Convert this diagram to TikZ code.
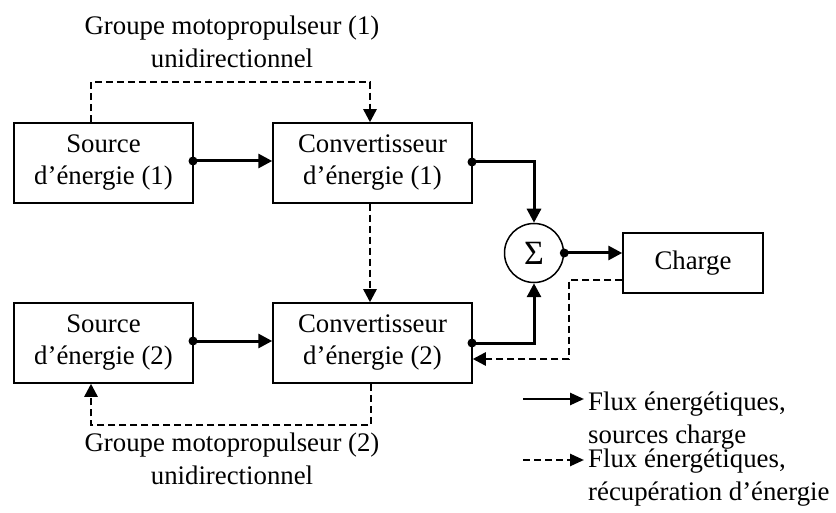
\documentclass[tikz,border=0pt]{standalone}
\usepackage{fontspec}
\setmainfont{Liberation Serif}
\usetikzlibrary{arrows.meta,calc}
\begin{document}
\begin{tikzpicture}[x=1pt,y=-1pt,
  txt/.style={font=\fontsize{26.8}{33}\selectfont, align=center, inner sep=0pt},
  blockbox/.style={draw, line width=1.5pt, minimum width=179pt, minimum height=80pt, inner sep=0pt, font=\fontsize{26.8}{32}\selectfont, align=center},
  flow/.style={line width=3pt, -{Triangle[length=14pt,width=14pt]}},
  rec/.style={line width=2.5pt, dash pattern=on 7pt off 4pt, -{Triangle[length=13pt,width=13pt]}},
  dot/.style={fill=black, circle, inner sep=0pt, minimum size=9pt}
]
\useasboundingbox (0,0) rectangle (836,513);
\node[blockbox] (s1) at (103.5,163) {Source\\d’énergie (1)};
\node[blockbox, minimum width=199pt] (c1) at (372.5,163) {Convertisseur\\d’énergie (1)};
\node[blockbox] (s2) at (103.5,343) {Source\\d’énergie (2)};
\node[blockbox, minimum width=199pt] (c2) at (372.5,343) {Convertisseur\\d’énergie (2)};
\node[draw, line width=1.5pt, circle, minimum size=59pt, inner sep=0pt, font=\fontsize{34}{34}\selectfont] (sum) at (534,253) {Σ};
\node[blockbox, minimum width=140pt, minimum height=60pt] (ch) at (693,263) {Charge};

\node[txt] (t1) at (232,42) {Groupe motopropulseur (1)\\unidirectionnel};
\node[txt] (t2) at (232,459) {Groupe motopropulseur (2)\\unidirectionnel};

% solid flows
\coordinate (p1) at (193,161);
\coordinate (p2) at (193,341);
\coordinate (p3) at (472,162);
\coordinate (p4) at (472,343);
\draw[flow] (p1) -- (p1 -| c1.west);
\draw[flow] (p2) -- (p2 -| c2.west);
\draw[flow] (p3) -| (sum.north);
\draw[flow] (p4) -| (sum.south);
\draw[flow] (sum.east) -- (sum.east -| ch.west);
\node[dot] (d1) at (p1) {};
\node[dot] (d2) at (p2) {};
\node[dot] (d3) at (p3) {};
\node[dot] (d4) at (p4) {};
\node[dot] (d5) at (sum.east) {};

% dashed flows
\coordinate (q1) at (91,82);
\coordinate (q2) at (370,82);
\draw[rec] (s1.north -| q1) -- (q1) -- (q2) -- (q2 |- c1.north);
\draw[rec] (c1.south -| q2) -- (q2 |- c2.north);
\coordinate (q3) at (371,425);
\coordinate (q4) at (91,425);
\draw[rec] (c2.south -| q3) -- (q3) -- (q4) -- (q4 |- s2.south);
\coordinate (q5) at (569,280);
\coordinate (q6) at (569,359);
\draw[rec] (ch.west |- q5) -- (q5) -- (q6) -- (q6 -| c2.east);

% legend
\coordinate (l1) at (523,399);
\coordinate (l2) at (584,399);
\coordinate (l3) at (523,460);
\coordinate (l4) at (584,460);
\draw[line width=2.6pt, -{Triangle[length=14pt,width=12pt]}] (l1) -- (l2);
\draw[line width=2.6pt, dash pattern=on 7pt off 4pt, -{Triangle[length=14pt,width=12pt]}] (l3) -- (l4);
\node[txt, align=left, anchor=west] (lt1) at (588,421) {Flux énergétiques,\\sources charge};
\node[txt, align=left, anchor=west] (lt2) at (588,478) {Flux énergétiques,\\récupération d’énergie};
\end{tikzpicture}
\end{document}
